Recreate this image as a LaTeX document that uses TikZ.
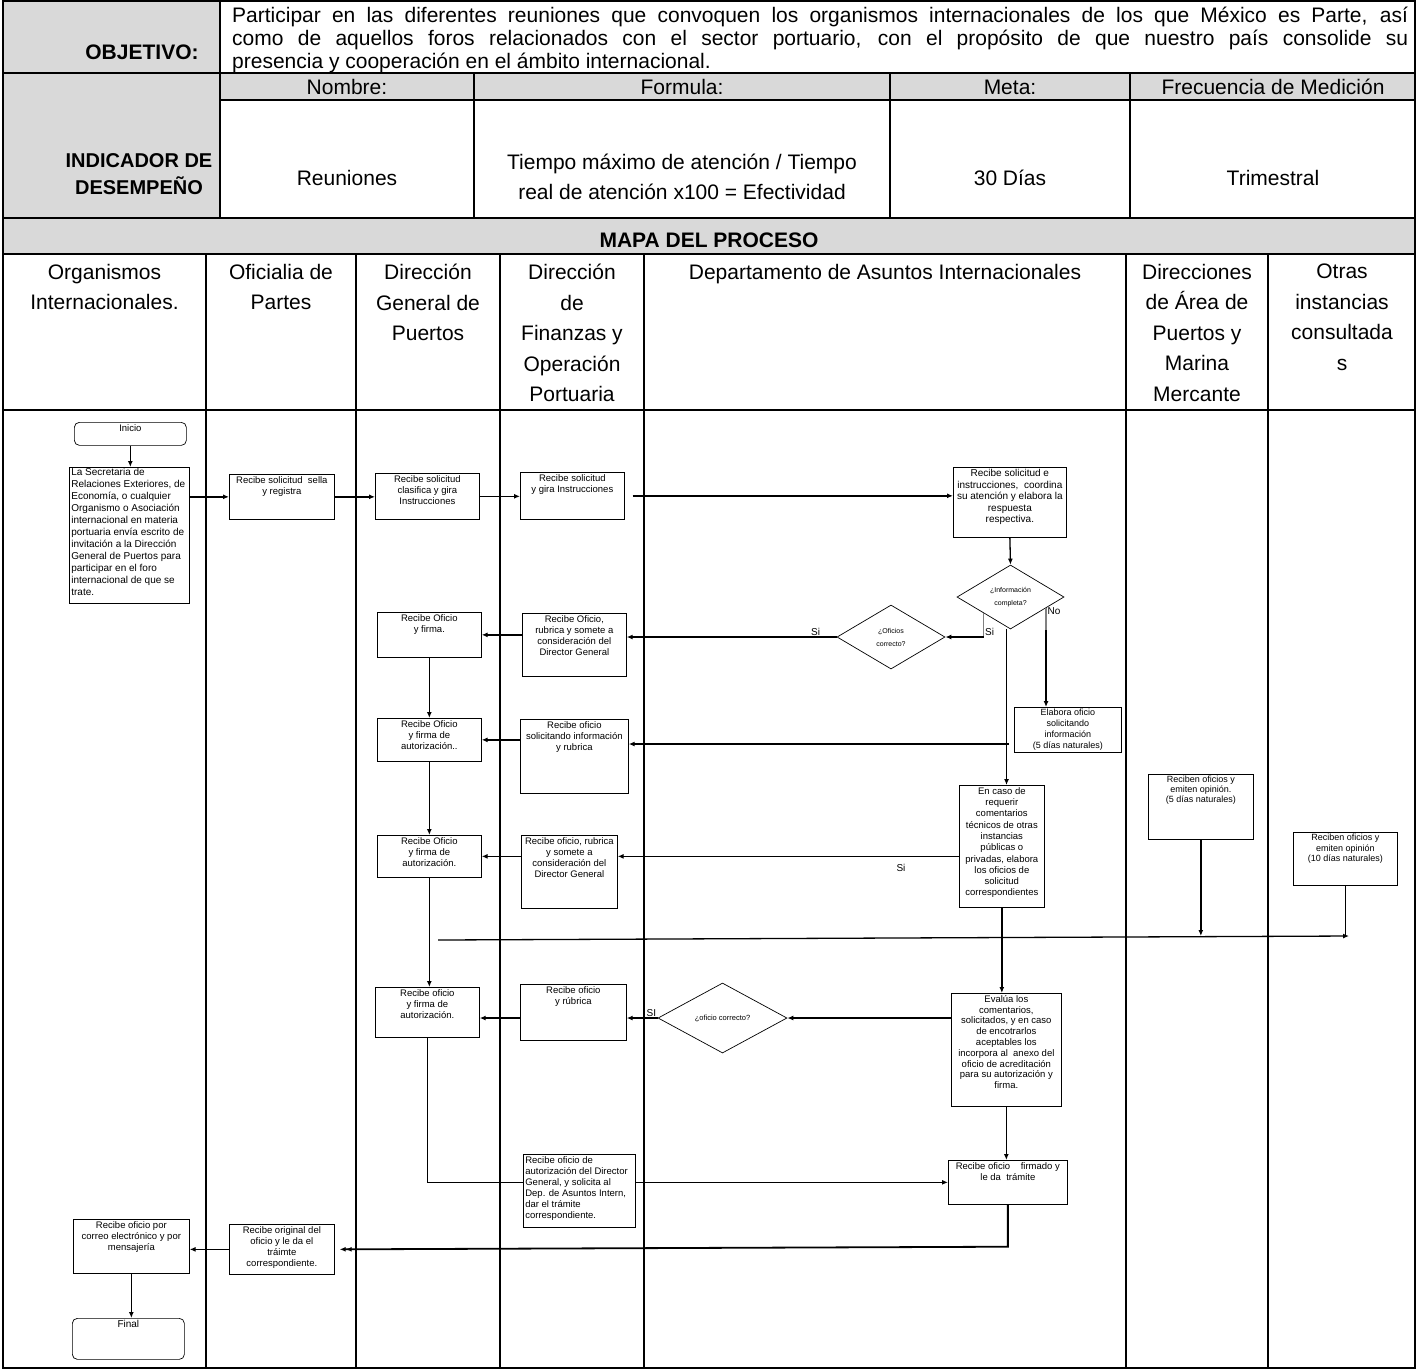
\documentclass[tikz,border=0pt]{standalone}
\usepackage{fontspec}
\setmainfont{Liberation Sans}
\usetikzlibrary{shapes.geometric,arrows.meta}

\definecolor{cellgray}{RGB}{217,217,217}
\newcommand{\hdfont}{\fontsize{21}{23}\selectfont}
\newcommand{\boxtxt}[3]{\parbox[c][#2][t]{#1}{\centering\vspace*{2pt}#3}}

\tikzset{
  tbl/.style={line width=1.6pt},
  proc/.style={draw, line width=0.7pt, inner sep=0pt, anchor=north west, font=\fontsize{9.5}{11}\selectfont},
  term/.style={proc, rounded corners=5pt},
  decision/.style={draw, diamond, line width=0.7pt, inner sep=0pt, font=\fontsize{7}{13}\selectfont, align=center},
  flow/.style={line width=1.3pt, -{Latex[length=6pt,width=5pt]}},
  plainlink/.style={line width=1.3pt},
  graylink/.style={line width=1.3pt, gray},
  lane/.style={font=\fontsize{21}{30.5}\selectfont, align=center, anchor=north, inner sep=0pt},
  tag/.style={font=\fontsize{10}{10}\selectfont, inner sep=1pt, text=black}
}

\begin{document}
\begin{tikzpicture}[x=1pt,y=-1pt]
\useasboundingbox (0,0) rectangle (1418,1369);

% header cells
\fill[cellgray] (3,1) rectangle (220,218);
\fill[cellgray] (220,73) rectangle (1415,100);
\fill[cellgray] (3,218) rectangle (1415,254);
\draw[tbl] (3,1) rectangle (1415,1368);
\draw[tbl] (3,73) -- (1415,73);
\draw[tbl] (220,100) -- (1415,100);
\draw[tbl] (3,218) -- (1415,218);
\draw[tbl] (3,254) -- (1415,254);
\draw[tbl] (3,410) -- (1415,410);
\draw[tbl] (220,1) -- (220,218);
\foreach \x in {474,890,1130} \draw[tbl] (\x,73) -- (\x,218);
\foreach \x in {206,356,500,644,1126,1268} \draw[tbl] (\x,254) -- (\x,1368);

\node[font=\bfseries\hdfont] (objlbl) at (142,52) {OBJETIVO:};
\node[anchor=north west, inner sep=0pt, font=\hdfont] (objtxt) at (232,7) {\parbox{1176pt}{Participar en las diferentes reuniones que convoquen los organismos internacionales de los que México es Parte, así\linebreak como de aquellos foros relacionados con el sector portuario, con el propósito de que nuestro país consolide su\linebreak presencia y cooperación en el ámbito internacional.}};
\node[font=\bfseries\fontsize{20}{27}\selectfont, align=center] (indlbl) at (139,174) {INDICADOR DE\\DESEMPEÑO};
\node[font=\hdfont] (hnom) at (347,87) {Nombre:};
\node[font=\hdfont] (hform) at (682,87) {Formula:};
\node[font=\hdfont] (hmeta) at (1010,87) {Meta:};
\node[font=\hdfont] (hfrec) at (1273,87) {Frecuencia de Medición};
\node[font=\hdfont] (vnom) at (347,178) {Reuniones};
\node[font=\fontsize{21}{30}\selectfont, align=center] (vform) at (682,177) {Tiempo máximo de atención / Tiempo\\real de atención x100 = Efectividad};
\node[font=\hdfont] (vmeta) at (1010,178) {30 Días};
\node[font=\hdfont] (vfrec) at (1273,178) {Trimestral};
\node[font=\bfseries\hdfont] (mapa) at (709,240) {MAPA DEL PROCESO};

% lanes
\node[lane] (l1) at (104.5,264) {Organismos\\Internacionales.};
\node[lane] (l2) at (281,264) {Oficialia de\\Partes};
\node[lane] (l3) at (428,264) {Dirección\\General de\\Puertos};
\node[lane] (l4) at (572,264) {Dirección\\de\\Finanzas y\\Operación\\Portuaria};
\node[lane] (l5) at (885,264) {Departamento de Asuntos Internacionales};
\node[lane] (l6) at (1197,264) {Direcciones\\de Área de\\Puertos y\\Marina\\Mercante};
\node[lane] (l7) at (1342,264) {Otras\\instancias\\consultada\\s};

% steps
\node[term] (inicio) at (74,422) {\boxtxt{112pt}{23pt}{Inicio}};
\node[proc, inner xsep=2pt, font=\fontsize{10}{12}\selectfont] (sre) at (69,467) {\parbox[c][136pt][t]{116pt}{\raggedright\vspace*{1pt}La Secretaria de\\Relaciones Exteriores, de\\Economía, o cualquier\\Organismo o Asociación\\internacional en materia\\portuaria envía escrito de\\invitación a la Dirección\\General de Puertos para\\participar en el foro\\internacional de que se\\trate.}};
\node[proc] (sella) at (229,474) {\boxtxt{105pt}{45pt}{Recibe solicitud\ \ sella\\y registra}};
\node[proc] (clasif) at (375,473) {\boxtxt{104pt}{46pt}{Recibe solicitud\\clasifica y gira\\Instrucciones}};
\node[proc] (gira) at (520,472) {\boxtxt{104pt}{47pt}{Recibe solicitud\\y gira Instrucciones}};
\node[proc, font=\fontsize{10}{11.5}\selectfont] (coord) at (953,467) {\boxtxt{113pt}{70pt}{Recibe solicitud e\\instrucciones,\ \ coordina\\su atención y elabora la\\respuesta\\respectiva.}};
\node[decision, minimum width=107pt, minimum height=64pt] (dinfo) at (1010.5,597) {¿Información\\completa?};
\node[decision, minimum width=108pt, minimum height=64pt] (doficio) at (891,637) {¿Oficios\\correcto?};
\node[proc] (firma1) at (377,612) {\boxtxt{104pt}{45pt}{Recibe Oficio\\y firma.}};
\node[proc] (rubrica1) at (522,613) {\boxtxt{104pt}{63pt}{Recibe Oficio,\\rubrica y somete a\\consideración del\\Director General}};
\node[proc] (firma2) at (377,718) {\boxtxt{104pt}{43pt}{Recibe Oficio\\y firma de\\autorización..}};
\node[proc] (solinf) at (520,719) {\boxtxt{108pt}{74pt}{Recibe oficio\\solicitando información\\y rubrica}};
\node[proc, font=\fontsize{9}{10.8}\selectfont] (elabora) at (1014,707) {\boxtxt{107pt}{45pt}{Elabora oficio\\solicitando\\información\\(5 días naturales)}};
\node[proc, font=\fontsize{9.5}{11.3}\selectfont] (caso) at (959,785) {\boxtxt{85pt}{122pt}{En caso de\\requerir\\comentarios\\técnicos de otras\\instancias\\públicas o\\privadas, elabora\\los oficios de\\solicitud\\correspondientes}};
\node[proc] (firma3) at (377,835) {\boxtxt{104pt}{42pt}{Recibe Oficio\\y firma de\\autorización.}};
\node[proc] (rubrica2) at (521,835) {\boxtxt{96pt}{73pt}{Recibe oficio, rubrica\\y somete a\\consideración del\\Director General}};
\node[proc, font=\fontsize{9}{10}\selectfont] (dapm) at (1148,774) {\boxtxt{105pt}{65pt}{Reciben oficios y\\emiten opinión.\\(5 días naturales)}};
\node[proc, font=\fontsize{9}{10.5}\selectfont] (otras) at (1293,832) {\boxtxt{104pt}{53pt}{Reciben oficios y\\emiten opinión\\(10 días naturales)}};
\node[proc, font=\fontsize{9.5}{10.8}\selectfont] (evalua) at (951,993) {\boxtxt{110pt}{113pt}{Evalúa los\\comentarios,\\solicitados, y en caso\\de encotrarlos\\aceptables los\\incorpora al\ \ anexo del\\oficio de acreditación\\para su autorización y\\firma.}};
\node[decision, minimum width=129pt, minimum height=70pt, font=\fontsize{7.5}{9}\selectfont] (dcorr) at (722.5,1018) {¿oficio correcto?};
\node[proc] (rubr3) at (520,984) {\boxtxt{106pt}{56pt}{Recibe oficio\\y rúbrica}};
\node[proc] (firma4) at (375,987) {\boxtxt{104pt}{50pt}{Recibe oficio\\y firma de\\autorización.}};
\node[proc, inner xsep=2pt] (autdg) at (523,1154) {\parbox[c][73pt][t]{108pt}{\raggedright\vspace*{2pt}Recibe oficio de\\autorización del Director\\General, y solicita al\\Dep. de Asuntos Intern,\\dar el trámite\\correspondiente.}};
\node[proc] (firmado) at (948,1160) {\boxtxt{119pt}{44pt}{Recibe oficio\ \ \ \ firmado y\\le da\ \ trámite}};
\node[proc] (original) at (229,1224) {\boxtxt{105pt}{50pt}{Recibe original del\\oficio y le da el\\tráimte\\correspondiente.}};
\node[proc] (correo) at (73,1219) {\boxtxt{116pt}{54pt}{Recibe oficio por\\correo electrónico y por\\mensajería}};
\node[term, font=\fontsize{10}{12}\selectfont] (final) at (72,1318) {\boxtxt{112pt}{41pt}{Final}};

% connectors
\draw[flow] (inicio.south) -- (inicio.south |- sre.north);
\draw[flow] (sre.east |- sella.west) -- (sella.west);
\draw[flow] (sella.east) -- (sella.east -| clasif.west);
\draw[flow] (clasif.east) -- (clasif.east -| gira.west);
\draw[flow] ([xshift=8pt]gira.east) -- (gira.east -| coord.west);
\draw[flow] (coord.south) -- (dinfo.north);
\draw[graylink] (dinfo.south west) -- (dinfo.south west |- doficio.east) node[tag, above right] {Si};
\draw[flow] (dinfo.south west |- doficio.east) -- (doficio.east);
\coordinate (nostart) at (1046,608);
\draw[graylink] (nostart) -- ++(0,22) coordinate (nobend) node[tag, pos=0.15, right] {No};
\draw[flow] (nobend) -- (nobend |- elabora.north);
\draw[flow] ([xshift=-4pt]dinfo.south) -- ([xshift=-4pt]dinfo.south |- caso.north);
\coordinate (tap) at (1009,744);
\draw[flow] (tap) -- (tap -| solinf.east);
\draw[flow] (doficio.west) -- (doficio.west -| rubrica1.east) node[tag, pos=0.1, above] {Si};
\draw[flow] (rubrica1.west |- firma1.east) -- (firma1.east);
\draw[flow] (firma1.south) -- (firma1.south |- firma2.north);
\draw[flow] (solinf.west |- firma2.east) -- (firma2.east);
\draw[flow] (firma2.south) -- (firma2.south |- firma3.north);
\draw[flow] (caso.west |- firma3.east) -- (rubrica2.east |- firma3.east) node[tag, pos=0.17, below=6pt] {Si};
\draw[flow] (rubrica2.west |- firma3.east) -- (firma3.east);
\coordinate (hla) at (438,940);
\coordinate (hlb) at (1349,936);
\draw[flow] (hla) -- (hlb);
\draw[flow] (dapm.south) -- (dapm.south |- hlb);
\draw[plainlink] (otras.south) -- (otras.south |- hlb);
\draw[flow] (caso.south) -- (caso.south |- evalua.north);
\draw[flow] (evalua.west |- dcorr.east) -- (dcorr.east);
\draw[flow] (dcorr.west) -- (dcorr.west -| rubr3.east) node[tag, pos=0.2, above] {SI};
\draw[flow] (rubr3.west |- dcorr.west) -- (dcorr.west -| firma4.east);
\draw[flow] (firma3.south) -- (firma3.south |- firma4.north);
\draw[plainlink] (firma4.south) |- (autdg.west |- firmado.west);
\draw[flow] (autdg.east |- firmado.west) -- (firmado.west);
\draw[flow] (evalua.south) -- (evalua.south |- firmado.north);
\draw[line width=1.8pt, -{Latex[length=6pt,width=5pt]Latex[length=6pt,width=5pt]}, shorten >=5pt] (firmado.south) -- ++(0,42) -- (original.east);
\draw[flow] (original.west) -- (original.west -| correo.east);
\draw[flow] (correo.south) -- (correo.south |- final.north);
\end{tikzpicture}
\end{document}
